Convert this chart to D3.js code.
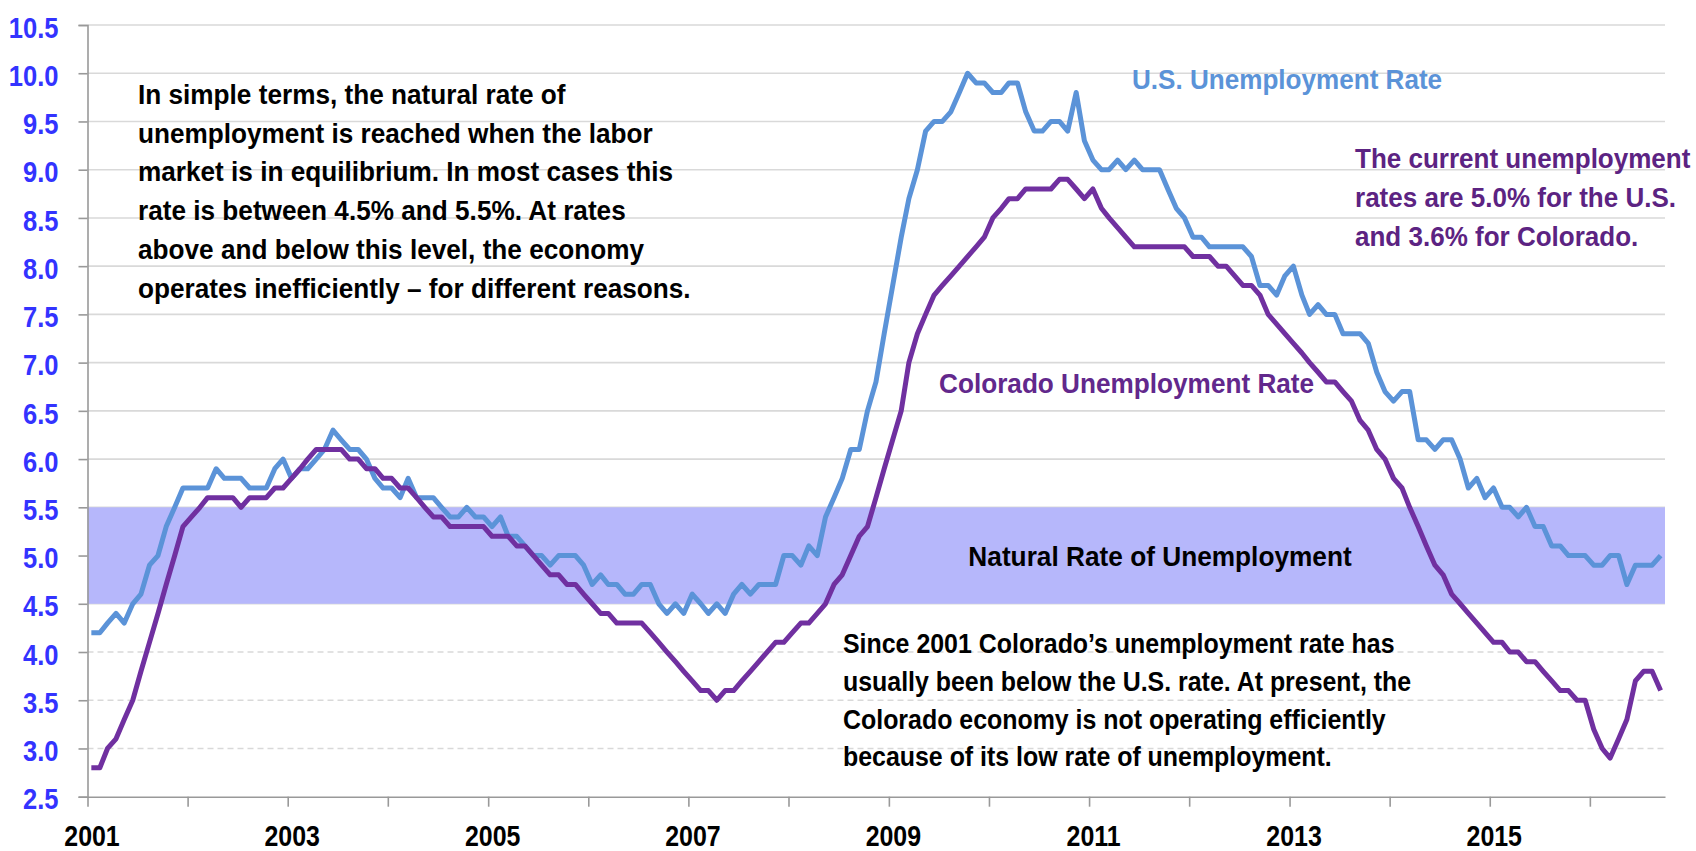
<!DOCTYPE html>
<html>
<head>
<meta charset="utf-8">
<script src="https://cdn.jsdelivr.net/npm/d3@7"></script>
<style>
  html, body { margin: 0; padding: 0; background: #fff; }
  svg text { font-family: "Liberation Sans Narrow", "Arial Narrow", "Liberation Sans", Arial, sans-serif; font-weight: bold; }
</style>
</head>
<body>
<div id="chart"></div>
<script>
// U.S. vs Colorado unemployment rate, monthly Jan 2001 - Sep 2016
const startYear = 2001;

const usRate = [
  4.2, 4.2, 4.3, 4.4, 4.3, 4.5, 4.6, 4.9, 5.0, 5.3, 5.5, 5.7,
  5.7, 5.7, 5.7, 5.9, 5.8, 5.8, 5.8, 5.7, 5.7, 5.7, 5.9, 6.0,
  5.8, 5.9, 5.9, 6.0, 6.1, 6.3, 6.2, 6.1, 6.1, 6.0, 5.8, 5.7,
  5.7, 5.6, 5.8, 5.6, 5.6, 5.6, 5.5, 5.4, 5.4, 5.5, 5.4, 5.4,
  5.3, 5.4, 5.2, 5.2, 5.1, 5.0, 5.0, 4.9, 5.0, 5.0, 5.0, 4.9,
  4.7, 4.8, 4.7, 4.7, 4.6, 4.6, 4.7, 4.7, 4.5, 4.4, 4.5, 4.4,
  4.6, 4.5, 4.4, 4.5, 4.4, 4.6, 4.7, 4.6, 4.7, 4.7, 4.7, 5.0,
  5.0, 4.9, 5.1, 5.0, 5.4, 5.6, 5.8, 6.1, 6.1, 6.5, 6.8, 7.3,
  7.8, 8.3, 8.7, 9.0, 9.4, 9.5, 9.5, 9.6, 9.8, 10.0, 9.9, 9.9,
  9.8, 9.8, 9.9, 9.9, 9.6, 9.4, 9.4, 9.5, 9.5, 9.4, 9.8, 9.3,
  9.1, 9.0, 9.0, 9.1, 9.0, 9.1, 9.0, 9.0, 9.0, 8.8, 8.6, 8.5,
  8.3, 8.3, 8.2, 8.2, 8.2, 8.2, 8.2, 8.1, 7.8, 7.8, 7.7, 7.9,
  8.0, 7.7, 7.5, 7.6, 7.5, 7.5, 7.3, 7.3, 7.3, 7.2, 6.9, 6.7,
  6.6, 6.7, 6.7, 6.2, 6.2, 6.1, 6.2, 6.2, 6.0, 5.7, 5.8, 5.6,
  5.7, 5.5, 5.5, 5.4, 5.5, 5.3, 5.3, 5.1, 5.1, 5.0, 5.0, 5.0,
  4.9, 4.9, 5.0, 5.0, 4.7, 4.9, 4.9, 4.9, 5.0
];

const coRate = [
  2.8, 2.8, 3.0, 3.1, 3.3, 3.5, 3.8, 4.1, 4.4, 4.7, 5.0, 5.3,
  5.4, 5.5, 5.6, 5.6, 5.6, 5.6, 5.5, 5.6, 5.6, 5.6, 5.7, 5.7,
  5.8, 5.9, 6.0, 6.1, 6.1, 6.1, 6.1, 6.0, 6.0, 5.9, 5.9, 5.8,
  5.8, 5.7, 5.7, 5.6, 5.5, 5.4, 5.4, 5.3, 5.3, 5.3, 5.3, 5.3,
  5.2, 5.2, 5.2, 5.1, 5.1, 5.0, 4.9, 4.8, 4.8, 4.7, 4.7, 4.6,
  4.5, 4.4, 4.4, 4.3, 4.3, 4.3, 4.3, 4.2, 4.1, 4.0, 3.9, 3.8,
  3.7, 3.6, 3.6, 3.5, 3.6, 3.6, 3.7, 3.8, 3.9, 4.0, 4.1, 4.1,
  4.2, 4.3, 4.3, 4.4, 4.5, 4.7, 4.8, 5.0, 5.2, 5.3, 5.6, 5.9,
  6.2, 6.5, 7.0, 7.3, 7.5, 7.7, 7.8, 7.9, 8.0, 8.1, 8.2, 8.3,
  8.5, 8.6, 8.7, 8.7, 8.8, 8.8, 8.8, 8.8, 8.9, 8.9, 8.8, 8.7,
  8.8, 8.6, 8.5, 8.4, 8.3, 8.2, 8.2, 8.2, 8.2, 8.2, 8.2, 8.2,
  8.1, 8.1, 8.1, 8.0, 8.0, 7.9, 7.8, 7.8, 7.7, 7.5, 7.4, 7.3,
  7.2, 7.1, 7.0, 6.9, 6.8, 6.8, 6.7, 6.6, 6.4, 6.3, 6.1, 6.0,
  5.8, 5.7, 5.5, 5.3, 5.1, 4.9, 4.8, 4.6, 4.5, 4.4, 4.3, 4.2,
  4.1, 4.1, 4.0, 4.0, 3.9, 3.9, 3.8, 3.7, 3.6, 3.6, 3.5, 3.5,
  3.2, 3.0, 2.9, 3.1, 3.3, 3.7, 3.8, 3.8, 3.6
];

const yTicks = [2.5, 3.0, 3.5, 4.0, 4.5, 5.0, 5.5, 6.0, 6.5, 7.0, 7.5, 8.0, 8.5, 9.0, 9.5, 10.0, 10.5];
const yearLabels = [2001, 2003, 2005, 2007, 2009, 2011, 2013, 2015];
const naturalBand = [4.5, 5.5];

const noteLeft = [
  'In simple terms, the natural rate of',
  'unemployment is reached when the labor',
  'market is in equilibrium. In most cases this',
  'rate is between 4.5% and 5.5%. At rates',
  'above and below this level, the economy',
  'operates inefficiently \u2013 for different reasons.'
];
const noteCurrent = [
  'The current unemployment',
  'rates are 5.0% for the U.S.',
  'and 3.6% for Colorado.'
];
const noteBelow = [
  'Since 2001 Colorado\u2019s unemployment rate has',
  'usually been below the U.S. rate. At present, the',
  'Colorado economy is not operating efficiently',
  'because of its low rate of unemployment.'
];

const width = 1696, height = 851;
const plotLeft = 87.5, plotRight = 1665, plotTop = 25, plotBottom = 796.7;

const svg = d3.select('#chart').append('svg')
  .attr('width', width)
  .attr('height', height);

const x = d3.scaleTime()
  .domain([new Date(startYear, 0, 1), new Date(2016, 9, 1)])
  .range([plotLeft, plotRight]);
const y = d3.scaleLinear().domain([2.5, 10.5]).range([plotBottom, plotTop]);

const dateOf = i => new Date(startYear, i, 15);

// the original uses a narrow bold face; squeeze the text horizontally
function squeeze(sel, k) {
  sel.each(function() {
    const t = d3.select(this);
    const x0 = +t.attr('x') || 0, y0 = +t.attr('y') || 0;
    t.attr('x', 0).attr('y', 0)
      .attr('transform', `translate(${x0},${y0}) scale(${k},1)`);
  });
}

// gridlines (dashed below the band, solid above)
svg.append('g')
  .selectAll('line')
  .data(yTicks.filter(v => v > 2.5))
  .join('line')
  .attr('x1', plotLeft).attr('x2', plotRight)
  .attr('y1', d => y(d)).attr('y2', d => y(d))
  .attr('stroke', '#d9d9d9')
  .attr('stroke-width', 1.6)
  .attr('stroke-dasharray', d => d < naturalBand[0] ? '6,4' : null);

// natural rate band
svg.append('rect')
  .attr('x', plotLeft)
  .attr('y', y(naturalBand[1]))
  .attr('width', plotRight - plotLeft)
  .attr('height', y(naturalBand[0]) - y(naturalBand[1]))
  .attr('fill', '#b6b7fb');

// y axis
const yAxis = svg.append('g')
  .attr('transform', `translate(${plotLeft},0)`)
  .call(d3.axisLeft(y).tickValues(yTicks).tickSize(9).tickPadding(20).tickFormat(d3.format('.1f')));
yAxis.select('.domain').attr('stroke', '#999').attr('stroke-width', 1.6);
yAxis.selectAll('.tick line').attr('stroke', '#999').attr('stroke-width', 1.6);
yAxis.selectAll('.tick text')
  .attr('fill', '#3333ff')
  .style('font-size', '29px')
  .attr('dy', '0.42em')
  .call(squeeze, 0.88);

// x axis
const xAxis = svg.append('g')
  .attr('transform', `translate(0,${plotBottom})`)
  .call(d3.axisBottom(x).ticks(d3.timeYear.every(1)).tickSize(10).tickSizeOuter(0)
    .tickFormat(d => yearLabels.includes(d.getFullYear()) ? d.getFullYear() : ''));
xAxis.select('.domain').attr('stroke', '#999').attr('stroke-width', 1.6);
xAxis.selectAll('.tick line').attr('stroke', '#999').attr('stroke-width', 1.6);
xAxis.selectAll('.tick text')
  .attr('fill', '#000')
  .style('font-size', '29px')
  .attr('x', 4)
  .attr('y', 49)
  .attr('dy', 0)
  .call(squeeze, 0.86);

// series
const line = d3.line()
  .x((d, i) => x(dateOf(i)))
  .y(d => y(d));

svg.append('path')
  .datum(usRate)
  .attr('fill', 'none')
  .attr('stroke', '#5b93d8')
  .attr('stroke-width', 5)
  .attr('stroke-linejoin', 'round')
  .attr('d', line);

svg.append('path')
  .datum(coRate)
  .attr('fill', 'none')
  .attr('stroke', '#7030a0')
  .attr('stroke-width', 5)
  .attr('stroke-linejoin', 'round')
  .attr('d', line);

// annotations
function block(lines, x0, y0, step, color, size, k, anchor) {
  svg.append('g').selectAll('text')
    .data(lines)
    .join('text')
    .attr('x', x0)
    .attr('y', (d, i) => y0 + i * step)
    .attr('text-anchor', anchor || 'start')
    .attr('fill', color)
    .style('font-size', size + 'px')
    .text(d => d)
    .call(squeeze, k);
}

block(noteLeft, 138, 104, 38.7, '#000', 28, 0.935);
block(noteCurrent, 1355, 168, 39, '#5c2382', 28, 0.93);
block(noteBelow, 843, 653, 37.8, '#000', 28, 0.89);
block(['U.S. Unemployment Rate'], 1132, 89, 0, '#5b93d8', 28, 0.932);
block(['Colorado Unemployment Rate'], 939, 393, 0, '#62288c', 28, 0.935);
block(['Natural Rate of Unemployment'], 1160, 566, 0, '#000', 28, 0.937, 'middle');
</script>
</body>
</html>
